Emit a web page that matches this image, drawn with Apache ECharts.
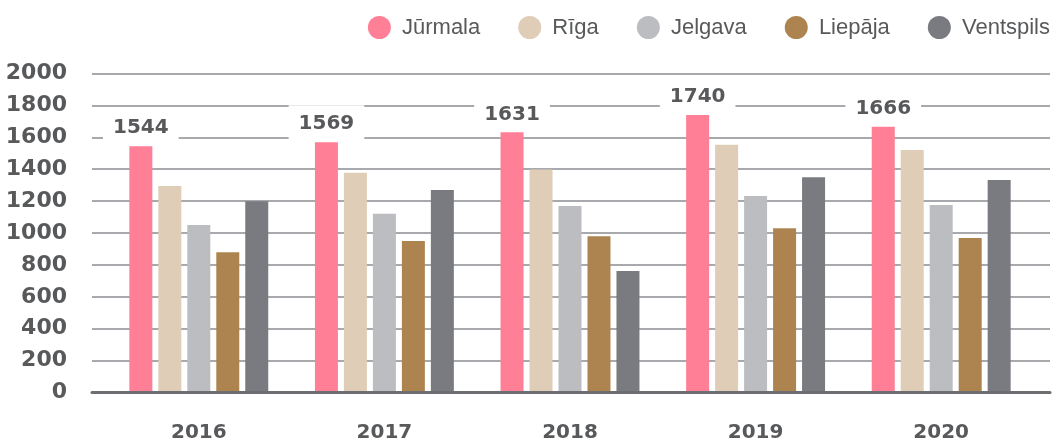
<!DOCTYPE html>
<html>
<head>
<meta charset="utf-8">
<script src="https://cdn.jsdelivr.net/npm/echarts@6/dist/echarts.min.js"></script>
<style>
  html, body { margin: 0; padding: 0; background: #ffffff; }
  #chart { width: 1052px; height: 441px; }
</style>
</head>
<body>
<div id="chart"></div>
<script>
// Years on the category axis
const years = ['2016', '2017', '2018', '2019', '2020'];

// City names, in legend order
const cities = ['Jūrmala', 'Rīga', 'Jelgava', 'Liepāja', 'Ventspils'];

// Values per city, one per year
const jurmala   = [1544, 1569, 1631, 1740, 1666];
const riga      = [1295, 1378, 1398, 1553, 1520];
const jelgava   = [1050, 1120, 1170, 1232, 1175];
const liepaja   = [880, 950, 980, 1030, 968];
const ventspils = [1199, 1270, 762, 1350, 1332];

// Value axis range and step
const yMin = 0;
const yMax = 2000;
const yStep = 200;

const seriesValues = [jurmala, riga, jelgava, liepaja, ventspils];
const colors = ['#ff7f96', '#dfcdb8', '#bcbdc1', '#ad8450', '#7a7b80'];
const textColor = '#58595b';
const numFont = '"DejaVu Sans", sans-serif';
const legendFont = '"Liberation Sans", Arial, sans-serif';

const chart = echarts.init(document.getElementById('chart'), null, { renderer: 'canvas' });

const series = cities.map((name, i) => {
  const s = {
    name: name,
    type: 'bar',
    xAxisIndex: 1,
    yAxisIndex: 1,
    data: seriesValues[i],
    barWidth: 23,
    barGap: '26%',
    itemStyle: { color: colors[i] },
    emphasis: { disabled: true },
    z: 3
  };
  if (i === 0) {
    // value tag above the first city's bars, on a white plate over the gridlines
    s.label = {
      show: true,
      position: 'top',
      distance: 3,
      fontFamily: numFont,
      fontWeight: 'bold',
      fontSize: 20,
      color: textColor,
      backgroundColor: '#ffffff',
      padding: [9, 10, 5, 10]
    };
  }
  return s;
});

const option = {
  animation: false,
  backgroundColor: '#ffffff',
  legend: {
    data: cities,
    right: 2,
    top: 16,
    padding: 0,
    icon: 'circle',
    itemWidth: 23,
    itemHeight: 23,
    itemGap: 38,
    formatter: name => ' ' + name,
    textStyle: {
      fontFamily: legendFont,
      fontSize: 22,
      color: textColor
    }
  },
  grid: [
    // background grid: gridlines, value labels and base line across the full width
    { left: 92, right: 2, top: 73.5, bottom: 48.5, containLabel: false, outerBoundsMode: 'none' },
    // bar grid
    { left: 106, right: 18, top: 73.5, bottom: 48.5, containLabel: false, outerBoundsMode: 'none' }
  ],
  xAxis: [
    {
      gridIndex: 0,
      type: 'value',
      min: 0,
      max: 1,
      z: 6,
      axisLine: { show: true, onZero: false, lineStyle: { color: '#6d6e71', width: 3 } },
      axisTick: { show: false },
      axisLabel: { show: false },
      splitLine: { show: false }
    },
    {
      gridIndex: 1,
      type: 'category',
      data: years,
      axisLine: { show: false },
      axisTick: { show: false },
      axisLabel: {
        margin: 30,
        fontFamily: numFont,
        fontWeight: 'bold',
        fontSize: 20,
        color: textColor
      },
      splitLine: { show: false }
    }
  ],
  yAxis: [
    {
      gridIndex: 0,
      type: 'value',
      min: yMin,
      max: yMax,
      interval: yStep,
      axisLine: { show: false },
      axisTick: { show: false },
      axisLabel: {
        margin: 25,
        formatter: v => String(v),
        fontFamily: numFont,
        fontWeight: 'bold',
        fontSize: 22,
        color: textColor
      },
      splitLine: { show: true, lineStyle: { color: '#a7a9ac', width: 2 } }
    },
    {
      gridIndex: 1,
      type: 'value',
      min: yMin,
      max: yMax,
      interval: yStep,
      axisLine: { show: false },
      axisTick: { show: false },
      axisLabel: { show: false },
      splitLine: { show: false }
    }
  ],
  series: series
};

chart.setOption(option);
</script>
</body>
</html>
